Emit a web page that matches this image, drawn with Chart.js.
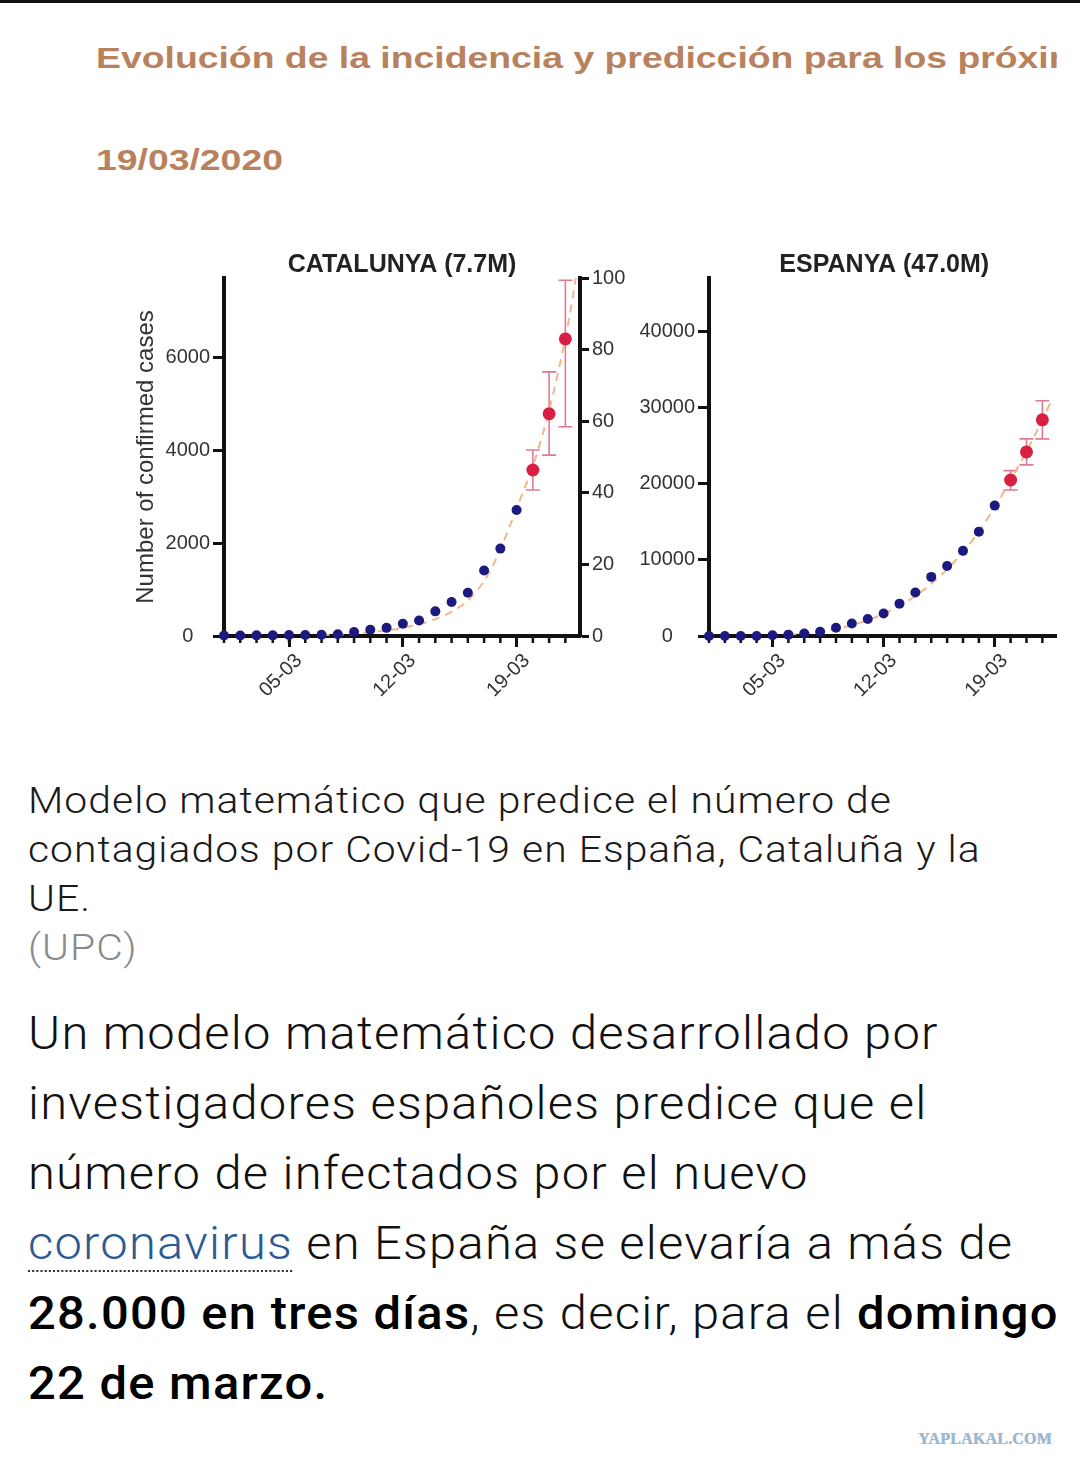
<!DOCTYPE html>
<html lang="es">
<head>
<meta charset="utf-8">
<title>Evolución de la incidencia y predicción</title>
<script src="https://cdn.jsdelivr.net/npm/chart.js@4.4.1/dist/chart.umd.min.js"></script>
<style>
  html, body { margin: 0; padding: 0; background: #fff; }
  body { width: 1080px; height: 1469px; position: relative; overflow: hidden; font-family: Roboto, 'Noto Sans', sans-serif; }
  .topbar { position: absolute; left: 0; top: 0; width: 1080px; height: 3px; background: #111; }
  .figure { position: absolute; left: 0; top: 3px; width: 1057px; height: 757px; overflow: hidden; }
  .figure-inner { position: absolute; left: 0; top: -3px; width: 1100px; height: 760px; }
  .heading { position: absolute; left: 96px; font: bold 30px 'Liberation Sans', Arial, sans-serif; line-height: 30px; color: #b9825e; white-space: nowrap; transform: scaleX(1.245); transform-origin: 0 0; }
  canvas { position: absolute; top: 240px; }
  .caption { position: absolute; left: 28px; top: 777px; font-size: 36px; font-weight: 300; letter-spacing: 0.9px; line-height: 49px; color: #1a1a1a; white-space: nowrap; transform: scaleX(1.135); transform-origin: 0 0; }
  .caption .src { color: #8a8a8a; }
  .body { position: absolute; left: 28px; top: 998px; font-size: 47px; font-weight: 300; letter-spacing: 1.2px; line-height: 70px; color: #111; white-space: nowrap; transform: scaleX(1.04); transform-origin: 0 0; }
  .body a { color: #2c5a95; text-decoration: underline dotted #333; text-decoration-thickness: 2px; text-underline-offset: 11px; }
  .body b { font-weight: 500; color: #000; }
  .mark { position: absolute; left: 918px; top: 1430px; font: bold 16px 'Liberation Serif', serif; color: #9db9d2; letter-spacing: 0.2px; text-shadow: 0.5px 0 0 #9db9d2; }
</style>
</head>
<body>
<div class="topbar"></div>
<div class="figure">
  <div class="figure-inner">
    <div class="heading" style="top:43px">Evolución de la incidencia y predicción para los próximos días</div>
    <div class="heading" style="top:145px">19/03/2020</div>
    <canvas id="catChart" width="520" height="480" style="left:120px"></canvas>
    <canvas id="espChart" width="446" height="480" style="left:620px"></canvas>
  </div>
</div>
<div class="caption">Modelo matemático que predice el número de<br>contagiados por Covid-19 en España, Cataluña y la<br>UE.<br><span class="src">(UPC)</span></div>
<div class="body">Un modelo matemático desarrollado por<br>investigadores españoles predice que el<br>número de infectados por el nuevo<br><a>coronavirus</a> en España se elevaría a más de<br><b>28.000 en tres días</b>, es decir, para el <b>domingo</b><br><b>22 de marzo.</b></div>
<div class="mark">YAPLAKAL.COM</div>

<script>
// day index: 0 = 01-03
const xTickDays = [4, 11, 18];
const xTickLabels = ['05-03', '12-03', '19-03'];

const obsDays = [0, 1, 2, 3, 4, 5, 6, 7, 8, 9, 10, 11, 12, 13, 14, 15, 16, 17, 18];
const predDays = [19, 20, 21];

// CATALUNYA (7.7M)
const catObsCases = [10, 12, 14, 14, 20, 22, 28, 38, 85, 135, 175, 265, 335, 530, 730, 930, 1410, 1880, 2710];
const catPredCases = [3570, 4780, 6390];
const catPredLow = [3140, 3890, 4500];
const catPredHigh = [4000, 5680, 7650];
const catFitDays = [6, 8, 10, 11, 12, 13, 14, 15, 16, 17, 18, 19, 20, 21, 21.65];
const catFitCases = [20, 45, 120, 175, 250, 360, 520, 760, 1180, 1860, 2750, 3650, 4850, 6400, 7700];
const catLeftTicks = [0, 2000, 4000, 6000];
const catRightTicks = [0, 20, 40, 60, 80, 100];

// ESPANYA (47.0M)
const espObsCases = [0, 0, 0, 10, 90, 180, 320, 560, 1080, 1650, 2230, 2960, 4250, 5720, 7760, 9200, 11180, 13700, 17120];
const espPredCases = [20480, 24170, 28380];
const espPredLow = [19170, 22460, 25880];
const espPredHigh = [21710, 25880, 30880];
const espFitDays = [5, 6, 7, 8, 9, 10, 11, 12, 13, 14, 15, 16, 17, 18, 19, 20, 21, 21.6];
const espFitCases = [200, 330, 560, 920, 1420, 2080, 2900, 3950, 5250, 6850, 8750, 11000, 13700, 16900, 20500, 24200, 28400, 31000];
const espLeftTicks = [0, 10000, 20000, 30000, 40000];

const FONT = "'Liberation Sans', Arial, Helvetica, sans-serif";
const INK = '#111';

const pts = (xs, ys) => xs.map((x, i) => ({ x, y: ys[i] }));

// vertical error bars for the predicted days
const errorBars = {
  id: 'errorBars',
  beforeDatasetsDraw(chart, args, opts) {
    const { ctx, scales: { x, y } } = chart;
    ctx.save();
    ctx.strokeStyle = opts.color;
    ctx.lineWidth = 1.6;
    opts.days.forEach((d, i) => {
      const px = x.getPixelForValue(d);
      const top = y.getPixelForValue(opts.high[i]);
      const bot = y.getPixelForValue(opts.low[i]);
      ctx.beginPath();
      ctx.moveTo(px, top); ctx.lineTo(px, bot);
      ctx.moveTo(px - 7, top); ctx.lineTo(px + 7, top);
      ctx.moveTo(px - 7, bot); ctx.lineTo(px + 7, bot);
      ctx.stroke();
    });
    ctx.restore();
  }
};

// small tick under the x axis for every day
const dayTicks = {
  id: 'dayTicks',
  beforeDatasetsDraw(chart, args, opts) {
    const { ctx, chartArea, scales: { x } } = chart;
    ctx.save();
    ctx.strokeStyle = INK;
    ctx.lineWidth = 2.5;
    opts.days.forEach(d => {
      const px = x.getPixelForValue(d);
      ctx.beginPath();
      ctx.moveTo(px, chartArea.bottom);
      ctx.lineTo(px, chartArea.bottom + 7);
      ctx.stroke();
    });
    ctx.restore();
  }
};

function yScale(max, ticks, zeroPad, width, position, tickLength) {
  return {
    type: 'linear',
    position,
    min: 0,
    max,
    afterBuildTicks: s => { s.ticks = ticks.map(v => ({ value: v })); },
    afterFit: s => { s.width = width; },
    border: { color: INK, width: 4 },
    grid: { drawOnChartArea: false, tickLength, tickWidth: 3, color: INK },
    ticks: {
      color: '#333',
      padding: 3,
      font: { family: FONT, size: 20 },
      callback: v => (v === 0 ? '0' + zeroPad : String(v))
    }
  };
}

function buildChart(id, cfg) {
  const datasets = [
    {
      type: 'line',
      data: pts(cfg.fitDays, cfg.fitCases),
      borderColor: '#f4b688',
      borderWidth: 2,
      borderDash: [8, 6],
      pointRadius: 0,
      tension: 0.3,
      clip: false,
      order: 3
    },
    {
      data: pts(obsDays, cfg.obs),
      backgroundColor: '#1d1a7f',
      borderWidth: 0,
      pointRadius: 5,
      clip: false,
      order: 2
    },
    {
      data: pts(predDays, cfg.pred),
      backgroundColor: '#d81f43',
      borderWidth: 0,
      pointRadius: 6.5,
      clip: false,
      order: 1
    }
  ];

  const scales = {
    x: {
      type: 'linear',
      min: 0,
      max: cfg.xMax,
      afterBuildTicks: s => { s.ticks = xTickDays.map(v => ({ value: v })); },
      afterFit: s => { s.height = 84; },
      border: { color: INK, width: 4 },
      grid: { drawOnChartArea: false, tickLength: 11, tickWidth: 3, color: INK },
      ticks: {
        autoSkip: false,
        minRotation: 45,
        maxRotation: 45,
        padding: 2,
        labelOffset: 10,
        color: '#333',
        font: { family: FONT, size: 20 },
        callback: v => xTickLabels[xTickDays.indexOf(v)] || ''
      }
    },
    y: yScale(cfg.yMax, cfg.leftTicks, cfg.zeroPad, cfg.leftWidth, 'left', 11)
  };
  scales.y.title = cfg.yTitle
    ? { display: true, text: cfg.yTitle, color: '#333', font: { family: FONT, size: 24, lineHeight: 1.2 }, padding: { top: 12, bottom: 0 } }
    : { display: false };
  if (cfg.rightTicks) {
    scales.y2 = yScale(100, cfg.rightTicks, '', 60, 'right', 9);
  }

  return new Chart(document.getElementById(id), {
    type: 'scatter',
    data: { datasets },
    plugins: [errorBars, dayTicks],
    options: {
      responsive: false,
      animation: false,
      layout: { padding: { top: 13, left: 0, right: 0, bottom: 0 } },
      scales,
      plugins: {
        legend: { display: false },
        tooltip: { enabled: false },
        title: {
          display: true,
          text: cfg.title,
          fullSize: false,
          color: '#222',
          font: { family: FONT, size: 25, weight: 'bold', lineHeight: 1 },
          padding: { top: 0, bottom: 0 }
        },
        errorBars: { days: predDays, low: cfg.low, high: cfg.high, color: 'rgba(214, 78, 112, 0.75)' },
        dayTicks: { days: obsDays.concat(predDays) }
      }
    }
  });
}

buildChart('catChart', {
  title: 'CATALUNYA (7.7M)',
  yTitle: 'Number of confirmed cases',
  xMax: 21.9,
  yMax: 7700,
  leftTicks: catLeftTicks,
  rightTicks: catRightTicks,
  leftWidth: 104,
  zeroPad: '   ',
  obs: catObsCases,
  pred: catPredCases,
  low: catPredLow,
  high: catPredHigh,
  fitDays: catFitDays,
  fitCases: catFitCases
});

buildChart('espChart', {
  title: 'ESPANYA (47.0M)',
  yTitle: null,
  xMax: 22.08,
  yMax: 47000,
  leftTicks: espLeftTicks,
  rightTicks: null,
  leftWidth: 89,
  zeroPad: '    ',
  obs: espObsCases,
  pred: espPredCases,
  low: espPredLow,
  high: espPredHigh,
  fitDays: espFitDays,
  fitCases: espFitCases
});
</script>
</body>
</html>
